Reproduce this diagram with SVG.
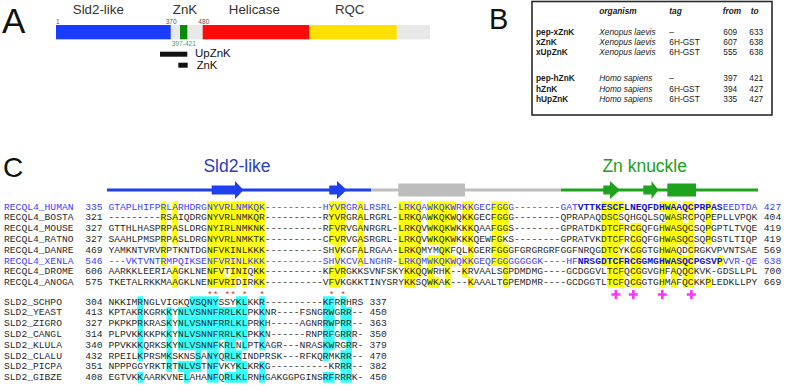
<svg xmlns="http://www.w3.org/2000/svg" width="787" height="390" viewBox="0 0 787 390">
<style>
.pl{font-family:"Liberation Sans",Arial,sans-serif;fill:#111}
.dom{font-family:"Liberation Sans",Arial,sans-serif;font-size:13.3px;fill:#333;text-anchor:middle}
.num{font-family:"Liberation Sans",Arial,sans-serif;font-size:6.6px;fill:#555}
.tb{font-family:"Liberation Sans",Arial,sans-serif;font-size:8.3px;fill:#1a1a1a}
.b{font-weight:bold}
.i{font-style:italic}
.m{font-family:"Liberation Mono","Courier New",monospace;font-size:9.667px;fill:#2a2a2a}
.mb{fill:#3d3dff}
.bd{font-weight:bold;fill:#1414d8}
.y rect{fill:#ffff00}
.c rect{fill:#33ffff}
.star{font-family:"Liberation Mono","Courier New",monospace;font-size:9.667px;fill:#d04040}
.plus{stroke:#ff33ff;stroke-width:2.6;fill:none}
</style>

<!-- Panel A -->
<g id="panelA">
  <text class="pl" x="2" y="33.3" font-size="35">A</text>
  <text class="dom" x="98.3" y="13.5">Sld2-like</text>
  <text class="dom" x="185" y="13.5">ZnK</text>
  <text class="dom" x="254.3" y="13.5">Helicase</text>
  <text class="dom" x="349.7" y="13.5">RQC</text>
  <rect x="56" y="25" width="374" height="14.3" fill="#e8e8e8"/>
  <rect x="56" y="25" width="114.7" height="14.3" fill="#1a3cff"/>
  <rect x="180" y="25" width="7.3" height="14.3" fill="#0a8a0a"/>
  <rect x="202.7" y="25" width="106.6" height="14.3" fill="#ff0a0a"/>
  <rect x="309.3" y="25" width="87.4" height="14.3" fill="#ffe000"/>
  <text class="num" x="56" y="23.8">1</text>
  <text class="num" x="165.7" y="23.8">370</text>
  <text class="num" x="198.3" y="23.8">480</text>
  <text class="num" x="171.7" y="45.7" style="fill:#5a9e5a">397-421</text>
  <rect x="160" y="51.7" width="27.3" height="5" fill="#111"/>
  <text class="pl" x="195" y="57.3" font-size="11.5">UpZnK</text>
  <rect x="178.3" y="62.7" width="9.4" height="5" fill="#111"/>
  <text class="pl" x="196.7" y="69.3" font-size="11.3">ZnK</text>
</g>

<!-- Panel B -->
<g id="panelB">
  <text class="pl" x="489" y="29.3" font-size="29">B</text>
  <rect x="532" y="1.5" width="240" height="113.5" fill="#fff" stroke="#2a2a2a" stroke-width="1.6"/>
  <g class="tb b i">
    <text x="599.3" y="14">organism</text>
    <text x="669.3" y="14">tag</text>
    <text x="722.7" y="14">from</text>
    <text x="750.7" y="14">to</text>
  </g>
  <g class="tb b">
    <text x="536" y="34.7">pep-xZnK</text>
    <text x="536" y="45">xZnK</text>
    <text x="536" y="55.3">xUpZnK</text>
    <text x="536" y="81.3">pep-hZnK</text>
    <text x="536" y="91.7">hZnK</text>
    <text x="536" y="102">hUpZnK</text>
  </g>
  <g class="tb i">
    <text x="599.3" y="34.7">Xenopus laevis</text>
    <text x="599.3" y="45">Xenopus laevis</text>
    <text x="599.3" y="55.3">Xenopus laevis</text>
    <text x="599.3" y="81.3">Homo sapiens</text>
    <text x="599.3" y="91.7">Homo sapiens</text>
    <text x="599.3" y="102">Homo sapiens</text>
  </g>
  <g class="tb">
    <text x="669.3" y="34.7">–</text>
    <text x="669.3" y="45">6H-GST</text>
    <text x="669.3" y="55.3">6H-GST</text>
    <text x="669.3" y="81.3">–</text>
    <text x="669.3" y="91.7">6H-GST</text>
    <text x="669.3" y="102">6H-GST</text>
    <text x="723.3" y="34.7">609</text><text x="749.3" y="34.7">633</text>
    <text x="723.3" y="45">607</text><text x="749.3" y="45">638</text>
    <text x="723.3" y="55.3">555</text><text x="749.3" y="55.3">638</text>
    <text x="723.3" y="81.3">397</text><text x="749.3" y="81.3">421</text>
    <text x="723.3" y="91.7">394</text><text x="749.3" y="91.7">427</text>
    <text x="723.3" y="102">335</text><text x="749.3" y="102">427</text>
  </g>
</g>

<!-- Panel C header -->
<g id="panelC-header">
  <text class="pl" x="3" y="177" font-size="28">C</text>
  <text x="237" y="171.5" font-family="Liberation Sans, Arial, sans-serif" font-size="17.5" fill="#2b3ec0" text-anchor="middle">Sld2-like</text>
  <text x="644.7" y="171.5" font-family="Liberation Sans, Arial, sans-serif" font-size="17.5" fill="#23a023" text-anchor="middle">Zn knuckle</text>
  <line x1="107" y1="190" x2="371" y2="190" stroke="#1f3ff0" stroke-width="3"/>
  <line x1="371" y1="190" x2="561" y2="190" stroke="#bdbdbd" stroke-width="3"/>
  <line x1="561" y1="190" x2="758" y2="190" stroke="#1fa31f" stroke-width="3"/>
  <polygon points="211.7,185.5 235,185.5 235,181 243.5,190 235,199 235,194.5 211.7,194.5" fill="#1f3ff0"/>
  <polygon points="329.3,185.5 337,185.5 337,181 346.7,190 337,199 337,194.5 329.3,194.5" fill="#1f3ff0"/>
  <rect x="398.3" y="183.5" width="66.7" height="13" fill="#bdbdbd"/>
  <polygon points="603.3,185.5 610,185.5 610,181 620,190 610,199 610,194.5 603.3,194.5" fill="#1fa31f"/>
  <polygon points="643.3,185.5 651.5,185.5 651.5,181 658.5,190 651.5,199 651.5,194.5 643.3,194.5" fill="#1fa31f"/>
  <rect x="667.3" y="183.5" width="28.7" height="13" fill="#1fa31f"/>
</g>

<!-- RECQL4 highlights -->
<g id="recql4-shading" class="y">
  <g transform="translate(0,201.3)">
    <rect x="160.6" width="5.8" height="10.8"/><rect x="172.2" width="5.8" height="10.8"/><rect x="207" width="58" height="10.8"/>
    <rect x="328.8" width="17.4" height="10.8"/><rect x="357.8" width="5.8" height="10.8"/><rect x="398.4" width="23.2" height="10.8"/>
    <rect x="427.4" width="29" height="10.8"/><rect x="462.2" width="11.6" height="10.8"/><rect x="491.2" width="17.4" height="10.8"/>
    <rect x="601.4" width="23.2" height="10.8"/><rect x="659.4" width="17.4" height="10.8"/><rect x="682.6" width="11.6" height="10.8"/><rect x="705.8" width="5.8" height="10.8"/>
  </g>
  <g transform="translate(0,212.1)">
    <rect x="160.6" width="5.8" height="10.8"/><rect x="172.2" width="5.8" height="10.8"/><rect x="207" width="58" height="10.8"/>
    <rect x="328.8" width="17.4" height="10.8"/><rect x="357.8" width="5.8" height="10.8"/><rect x="398.4" width="23.2" height="10.8"/>
    <rect x="427.4" width="29" height="10.8"/><rect x="462.2" width="11.6" height="10.8"/><rect x="491.2" width="17.4" height="10.8"/>
    <rect x="601.4" width="17.4" height="10.8"/><rect x="665.2" width="17.4" height="10.8"/><rect x="688.4" width="5.8" height="10.8"/><rect x="705.8" width="5.8" height="10.8"/>
  </g>
  <g transform="translate(0,222.9)">
    <rect x="160.6" width="5.8" height="10.8"/><rect x="172.2" width="5.8" height="10.8"/><rect x="207" width="58" height="10.8"/>
    <rect x="328.8" width="17.4" height="10.8"/><rect x="357.8" width="5.8" height="10.8"/><rect x="398.4" width="23.2" height="10.8"/>
    <rect x="427.4" width="29" height="10.8"/><rect x="462.2" width="11.6" height="10.8"/><rect x="491.2" width="17.4" height="10.8"/>
    <rect x="601.4" width="23.2" height="10.8"/><rect x="630.4" width="11.6" height="10.8"/><rect x="659.4" width="34.8" height="10.8"/><rect x="705.8" width="5.8" height="10.8"/>
  </g>
  <g transform="translate(0,233.7)">
    <rect x="160.6" width="5.8" height="10.8"/><rect x="172.2" width="5.8" height="10.8"/><rect x="207" width="58" height="10.8"/>
    <rect x="328.8" width="17.4" height="10.8"/><rect x="357.8" width="5.8" height="10.8"/><rect x="398.4" width="23.2" height="10.8"/>
    <rect x="427.4" width="29" height="10.8"/><rect x="462.2" width="11.6" height="10.8"/><rect x="491.2" width="11.6" height="10.8"/>
    <rect x="601.4" width="23.2" height="10.8"/><rect x="630.4" width="11.6" height="10.8"/><rect x="659.4" width="34.8" height="10.8"/><rect x="705.8" width="5.8" height="10.8"/>
  </g>
  <g transform="translate(0,244.5)">
    <rect x="160.6" width="5.8" height="10.8"/><rect x="207" width="58" height="10.8"/>
    <rect x="334.6" width="5.8" height="10.8"/><rect x="357.8" width="5.8" height="10.8"/><rect x="398.4" width="23.2" height="10.8"/>
    <rect x="439" width="11.6" height="10.8"/><rect x="468" width="5.8" height="10.8"/><rect x="491.2" width="17.4" height="10.8"/>
    <rect x="601.4" width="17.4" height="10.8"/><rect x="630.4" width="11.6" height="10.8"/><rect x="659.4" width="17.4" height="10.8"/><rect x="688.4" width="5.8" height="10.8"/>
  </g>
  <g transform="translate(0,255.3)">
    <rect x="160.6" width="5.8" height="10.8"/><rect x="207" width="58" height="10.8"/>
    <rect x="334.6" width="5.8" height="10.8"/><rect x="357.8" width="5.8" height="10.8"/><rect x="398.4" width="23.2" height="10.8"/>
    <rect x="427.4" width="29" height="10.8"/><rect x="462.2" width="11.6" height="10.8"/><rect x="491.2" width="17.4" height="10.8"/>
    <rect x="601.4" width="23.2" height="10.8"/><rect x="630.4" width="11.6" height="10.8"/><rect x="659.4" width="34.8" height="10.8"/><rect x="717.4" width="5.8" height="10.8"/>
  </g>
  <g transform="translate(0,266.1)">
    <rect x="172.2" width="5.8" height="10.8"/><rect x="207" width="17.4" height="10.8"/><rect x="230.2" width="17.4" height="10.8"/><rect x="253.4" width="11.6" height="10.8"/>
    <rect x="328.8" width="17.4" height="10.8"/><rect x="404.2" width="17.4" height="10.8"/><rect x="427.4" width="5.8" height="10.8"/>
    <rect x="444.8" width="5.8" height="10.8"/><rect x="462.2" width="5.8" height="10.8"/><rect x="502.8" width="5.8" height="10.8"/>
    <rect x="607.2" width="17.4" height="10.8"/><rect x="630.4" width="11.6" height="10.8"/><rect x="659.4" width="5.8" height="10.8"/><rect x="671" width="5.8" height="10.8"/><rect x="682.6" width="11.6" height="10.8"/>
  </g>
  <g transform="translate(0,276.9)">
    <rect x="172.2" width="5.8" height="10.8"/><rect x="207" width="29" height="10.8"/><rect x="241.8" width="5.8" height="10.8"/><rect x="253.4" width="11.6" height="10.8"/>
    <rect x="328.8" width="11.6" height="10.8"/><rect x="404.2" width="11.6" height="10.8"/><rect x="427.4" width="11.6" height="10.8"/>
    <rect x="444.8" width="5.8" height="10.8"/><rect x="468" width="5.8" height="10.8"/><rect x="502.8" width="5.8" height="10.8"/>
    <rect x="607.2" width="17.4" height="10.8"/><rect x="630.4" width="11.6" height="10.8"/><rect x="659.4" width="5.8" height="10.8"/><rect x="671" width="5.8" height="10.8"/><rect x="682.6" width="11.6" height="10.8"/><rect x="705.8" width="5.8" height="10.8"/>
  </g>
</g>

<!-- SLD2 highlights -->
<g id="sld2-shading" class="c">
  <g transform="translate(0,296.3)">
    <rect x="137.4" width="5.8" height="10.8"/><rect x="189.6" width="29" height="10.8"/><rect x="236" width="11.6" height="10.8"/><rect x="259.2" width="5.8" height="10.8"/>
    <rect x="323" width="11.6" height="10.8"/><rect x="340.4" width="5.8" height="10.8"/>
  </g>
  <g transform="translate(0,307.1)">
    <rect x="137.4" width="5.8" height="10.8"/><rect x="166.4" width="5.8" height="10.8"/><rect x="178" width="69.6" height="10.8"/><rect x="259.2" width="5.8" height="10.8"/>
    <rect x="323" width="11.6" height="10.8"/><rect x="340.4" width="11.6" height="10.8"/>
  </g>
  <g transform="translate(0,317.9)">
    <rect x="137.4" width="5.8" height="10.8"/><rect x="166.4" width="5.8" height="10.8"/><rect x="178" width="69.6" height="10.8"/><rect x="259.2" width="5.8" height="10.8"/>
    <rect x="323" width="11.6" height="10.8"/><rect x="340.4" width="11.6" height="10.8"/>
  </g>
  <g transform="translate(0,328.7)">
    <rect x="137.4" width="5.8" height="10.8"/><rect x="166.4" width="5.8" height="10.8"/><rect x="178" width="69.6" height="10.8"/><rect x="259.2" width="5.8" height="10.8"/>
    <rect x="323" width="11.6" height="10.8"/><rect x="340.4" width="11.6" height="10.8"/>
  </g>
  <g transform="translate(0,339.5)">
    <rect x="137.4" width="5.8" height="10.8"/><rect x="166.4" width="5.8" height="10.8"/><rect x="178" width="40.6" height="10.8"/><rect x="224.4" width="11.6" height="10.8"/>
    <rect x="241.8" width="5.8" height="10.8"/><rect x="259.2" width="5.8" height="10.8"/><rect x="323" width="11.6" height="10.8"/><rect x="346.2" width="5.8" height="10.8"/>
  </g>
  <g transform="translate(0,350.3)">
    <rect x="137.4" width="5.8" height="10.8"/><rect x="166.4" width="5.8" height="10.8"/><rect x="195.4" width="5.8" height="10.8"/><rect x="207" width="11.6" height="10.8"/>
    <rect x="224.4" width="17.4" height="10.8"/><rect x="323" width="5.8" height="10.8"/><rect x="340.4" width="11.6" height="10.8"/>
  </g>
  <g transform="translate(0,361.1)">
    <rect x="166.4" width="5.8" height="10.8"/><rect x="178" width="23.2" height="10.8"/><rect x="207" width="11.6" height="10.8"/><rect x="236" width="11.6" height="10.8"/>
    <rect x="259.2" width="5.8" height="10.8"/><rect x="340.4" width="11.6" height="10.8"/>
  </g>
  <g transform="translate(0,371.9)">
    <rect x="137.4" width="5.8" height="10.8"/><rect x="183.8" width="5.8" height="10.8"/><rect x="207" width="11.6" height="10.8"/><rect x="224.4" width="23.2" height="10.8"/>
    <rect x="259.2" width="5.8" height="10.8"/><rect x="323" width="11.6" height="10.8"/><rect x="340.4" width="11.6" height="10.8"/>
  </g>
</g>

<!-- RECQL4 alignment text -->
<g id="recql4-rows" class="m">
  <g class="mb" id="row-human">
    <text x="4" y="209.5">RECQL4_HUMAN</text><text x="85.2" y="209.5">335</text>
    <text x="108.4" y="209.5">GTAPLHIFPRLARHDRGNYVRLNMKQK----------HYVRGRALRSRL-LRKQAWKQKWRKKGECFGGG--------GAT<tspan class="bd">VTTKESCFLNEQFDHWAAQCPRPAS</tspan>EEDTDA</text>
    <text x="763.8" y="209.5">427</text>
  </g>
  <g id="row-bosta">
    <text x="4" y="220.3">RECQL4_BOSTA</text><text x="85.2" y="220.3">321</text>
    <text x="108.4" y="220.3">---------RSAIQDRGNYVRLNMKQR----------RYVRGRALRGRL-LRKQAWKQKWQKKGECFGGG--------QPRAPAQDSCSQHGQLSQWASRCPQPEPLLVPQK</text>
    <text x="763.8" y="220.3">404</text>
  </g>
  <g id="row-mouse">
    <text x="4" y="231.1">RECQL4_MOUSE</text><text x="85.2" y="231.1">327</text>
    <text x="108.4" y="231.1">GTTHLHASPRPASLDRGNYIRLNMKNK----------RFVRVGANRGRL-LRKQVWKQKWKKKQAAFGGS--------GPRATDKDTCFRCGQFGHWASQCSQPGPTLTVQE</text>
    <text x="763.8" y="231.1">419</text>
  </g>
  <g id="row-ratno">
    <text x="4" y="241.9">RECQL4_RATNO</text><text x="85.2" y="241.9">327</text>
    <text x="108.4" y="241.9">SAAHLPMSPRPASLDRGNYVRLNMKTK----------CFVRVGASRGRL-LRKQVWKQKWKKKQEWFGKS--------GPRATVKDTCFRCGQFGHWASQCSQPGSTLTIQP</text>
    <text x="763.8" y="241.9">419</text>
  </g>
  <g id="row-danre">
    <text x="4" y="252.7">RECQL4_DANRE</text><text x="85.2" y="252.7">469</text>
    <text x="108.4" y="252.7">YAMKNTVRVRPTKNTDGNFVKINLKKK----------SHVKGFALRGAA-LRKQMYMQKFQLKGERFGGGFGRGRGRFGGFNRQGDTCYKCGGTGHWAQDCRGKVPVNTSAE</text>
    <text x="763.8" y="252.7">569</text>
  </g>
  <g class="mb" id="row-xenla">
    <text x="4" y="263.5">RECQL4_XENLA</text><text x="85.2" y="263.5">546</text>
    <text x="108.4" y="263.5">---VKTVNTRMPQIKSENFVRINLKKK----------SHVKCVALNGHR-LRKQMWKQKWQKKGEQFGGGGGGGK----HF<tspan class="bd">NRSGDTCFRCGGMGHWASQCPGSVP</tspan>VVR-QE</text>
    <text x="763.8" y="263.5">638</text>
  </g>
  <g id="row-drome">
    <text x="4" y="274.3">RECQL4_DROME</text><text x="85.2" y="274.3">606</text>
    <text x="108.4" y="274.3">AARKKLEERIAAGKLNENFVTINIQKK----------KFVRGKKSVNFSKYKKQQWRHK--KRVAALSGPDMDMG----GCDGGVLTCFQCGGVGHFAQQCKVK-GDSLLPL</text>
    <text x="763.8" y="274.3">700</text>
  </g>
  <g id="row-anoga">
    <text x="4" y="285.1">RECQL4_ANOGA</text><text x="85.2" y="285.1">575</text>
    <text x="108.4" y="285.1">TKETALRKKMAAGKLNENFVRIDIRKK----------VFVKGKKTINYSRYKKSQWKAK---KAAALTGPEMDMR----GCDGGTLTCFQCGGTGHMAFQCKKPLEDKLLPY</text>
    <text x="763.8" y="285.1">669</text>
  </g>
</g>

<!-- conservation marks -->
<g id="marks">
  <text class="star" x="207" y="297.5" xml:space="preserve">** ** *  *           * *</text>
  <path class="plus" d="M611.4 294.5H620.4M615.9 290V299M628.8 294.5H637.8M633.3 290V299M657.8 294.5H666.8M662.3 290V299M686.8 294.5H695.8M691.3 290V299"/>
</g>

<!-- SLD2 alignment text -->
<g id="sld2-rows" class="m">
  <g id="row-schpo"><text x="4" y="304.5">SLD2_SCHPO</text><text x="85.2" y="304.5">304</text><text x="108.4" y="304.5">NKKIMRNGLVIGKQVSQNYSSYKLKKR----------KFRRHRS</text><text x="369.4" y="304.5">337</text></g>
  <g id="row-yeast"><text x="4" y="315.3">SLD2_YEAST</text><text x="85.2" y="315.3">413</text><text x="108.4" y="315.3">KPTAKRKGRKKYNLVSNNFRRLKLPKKNR----FSNGRWGRR--</text><text x="369.4" y="315.3">450</text></g>
  <g id="row-zigro"><text x="4" y="326.1">SLD2_ZIGRO</text><text x="85.2" y="326.1">327</text><text x="108.4" y="326.1">PKPKPRKRASKYNLVSNNFRRLKLPRKH-----AGNRRWPRR--</text><text x="369.4" y="326.1">363</text></g>
  <g id="row-cangl"><text x="4" y="336.9">SLD2_CANGL</text><text x="85.2" y="336.9">314</text><text x="108.4" y="336.9">PLPVKKKKPKKYNLVSNNFRRLKLPKKN------RNPRFGRRR-</text><text x="369.4" y="336.9">350</text></g>
  <g id="row-klula"><text x="4" y="347.7">SLD2_KLULA</text><text x="85.2" y="347.7">340</text><text x="108.4" y="347.7">PPVKKKQRKSKYNLVSNNFKRLNLPTKAGR---NRASKWRGRR-</text><text x="369.4" y="347.7">379</text></g>
  <g id="row-clalu"><text x="4" y="358.5">SLD2_CLALU</text><text x="85.2" y="358.5">432</text><text x="108.4" y="358.5">RPEILKPRSMKSKNSSANYQRLKINDPRSK---RFKQRMKRR--</text><text x="369.4" y="358.5">470</text></g>
  <g id="row-picpa"><text x="4" y="369.3">SLD2_PICPA</text><text x="85.2" y="369.3">351</text><text x="108.4" y="369.3">NPPPGGYRKTRTNLVSTNFVKYKLKRKG----------KRRR--</text><text x="369.4" y="369.3">382</text></g>
  <g id="row-gibze"><text x="4" y="380.1">SLD2_GIBZE</text><text x="85.2" y="380.1">408</text><text x="108.4" y="380.1">EGTVKKAARKVNELAHANFQRLKLRNHGAKGGPGINSRFRRRK-</text><text x="369.4" y="380.1">450</text></g>
</g>
</svg>
